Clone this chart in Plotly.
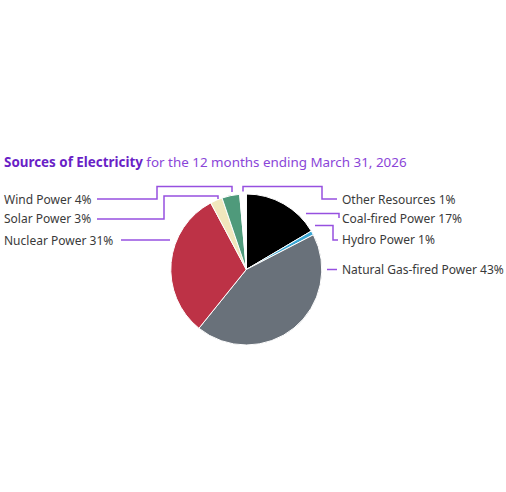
import plotly.graph_objects as go

W, H = 506, 492

# Data (clockwise from 12 o'clock)
sources = ["Coal-fired Power", "Hydro Power", "Natural Gas-fired Power",
           "Nuclear Power", "Solar Power", "Wind Power", "Other Resources"]
shares = [16.5, 0.9, 43.4, 31.4, 2.6, 3.8, 1.4]
label_pct = [17, 1, 43, 31, 3, 4, 1]
colors = ["#000000", "#3aa7d4", "#69717a", "#bd3246", "#f1e7bd", "#4f9a7b", "#ffffff"]

LINE = "#9650e0"
TEXT = "#3a3a3a"
FONT = "Noto Sans"

def px(x):
    return x / W

def py(y):
    return 1 - y / H

cx, cy, r = 246.3, 269.5, 75.5

fig = go.Figure(go.Pie(
    labels=sources, values=shares, sort=False, direction="clockwise", rotation=0,
    marker=dict(colors=colors, line=dict(color="#ffffff", width=1)),
    textinfo="none", hoverinfo="label+percent", showlegend=False,
    domain=dict(x=[px(cx - r), px(cx + r)], y=[py(cy + r), py(cy - r)]),
))

# label placement (pixel positions) and leader lines
label_pos = {
    "Wind Power": ("left", 2, 199),
    "Solar Power": ("left", 2, 219),
    "Nuclear Power": ("left", 2, 240),
    "Other Resources": ("right", 340, 199),
    "Coal-fired Power": ("right", 340, 219),
    "Hydro Power": ("right", 340, 239),
    "Natural Gas-fired Power": ("right", 340, 269),
}
leaders = {
    "Wind Power": [(97, 199), (157, 199), (157, 186.5), (232, 186.5), (232, 192)],
    "Solar Power": [(97, 219), (164, 219), (164, 196), (218, 196), (218, 199)],
    "Nuclear Power": [(121, 240), (170, 240)],
    "Other Resources": [(243, 191.5), (243, 186.5), (322, 186.5), (322, 199), (337, 199)],
    "Coal-fired Power": [(306, 213.5), (339, 213.5), (339, 218)],
    "Hydro Power": [(315, 225.5), (333, 225.5), (333, 240), (338, 240)],
    "Natural Gas-fired Power": [(327, 269.5), (337, 269.5)],
}

annotations = []
shapes = []
for name, pct in zip(sources, label_pct):
    side, x, y = label_pos[name]
    annotations.append(dict(
        text=f"{name} {pct}%", x=px(x), y=py(y), xref="paper", yref="paper",
        xanchor="left", yanchor="middle", showarrow=False,
        font=dict(family=FONT, size=12, color=TEXT),
    ))
    pts = leaders[name]
    path = "M " + " L ".join(f"{px(a)},{py(b)}" for a, b in pts)
    shapes.append(dict(type="path", path=path, xref="paper", yref="paper",
                       line=dict(color=LINE, width=1.5)))

annotations.append(dict(
    text="<b style='color:#6a1fc6'>Sources of Electricity</b>"
         "<span style='color:#8a45d8'> for the 12 months ending March 31, 2026</span>",
    x=px(2), y=py(162), xref="paper", yref="paper", xanchor="left", yanchor="middle",
    showarrow=False, font=dict(family=FONT, size=13.4, color="#8a45d8"),
))

fig.update_layout(
    width=W, height=H, margin=dict(l=0, r=0, t=0, b=0),
    paper_bgcolor="#ffffff", plot_bgcolor="#ffffff",
    annotations=annotations, shapes=shapes,
)

fig.write_html("out.html", config={"displayModeBar": False},
               post_script="document.body.style.margin='0px';")
